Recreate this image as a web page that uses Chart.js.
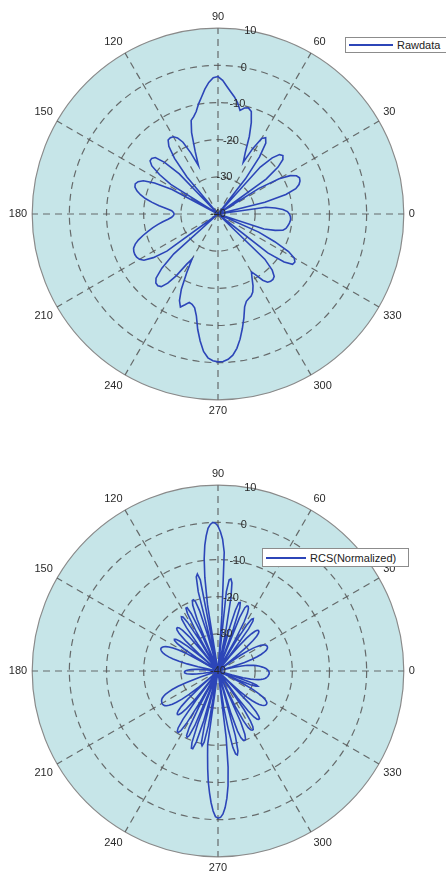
<!DOCTYPE html>
<html>
<head>
<meta charset="utf-8">
<script src="https://cdn.jsdelivr.net/npm/chart.js@4.4.1/dist/chart.umd.min.js"></script>
<style>
  body { margin: 0; background: #fff; width: 446px; height: 875px; overflow: hidden; position: relative; }
  .plot { position: absolute; left: 0; }
  #rawWrap { top: 10px; }
  #rcsWrap { top: 467px; }
  .legend {
    position: absolute; background: #fff; border: 1px solid #8c8c8c; box-sizing: border-box;
    display: flex; align-items: center; font-family: "Liberation Sans", Arial, sans-serif;
    font-size: 11px; color: #222; white-space: nowrap; overflow: hidden;
  }
  .legend .swatch { display: inline-block; height: 2px; background: #2c45b8; margin: 0 4px 0 3px; }
</style>
</head>
<body>
<div class="plot" id="rawWrap"><canvas id="rawChart" width="446" height="408"></canvas></div>
<div class="plot" id="rcsWrap"><canvas id="rcsChart" width="446" height="408"></canvas></div>

<div class="legend" style="left:345px;top:37px;width:106px;height:16px">
  <span class="swatch" style="width:44px"></span><span>Rawdata</span>
</div>
<div class="legend" style="left:262px;top:548px;width:147px;height:19px">
  <span class="swatch" style="width:40px"></span><span>RCS(Normalized)</span>
</div>

<script>
// radial axis (dB)
const radialTicks = [-40, -30, -20, -10, 0, 10];
const angleLabels = [0, 30, 60, 90, 120, 150, 180, 210, 240, 270, 300, 330];

// upper plot: raw data, one value every 2 degrees starting at 0
const rawStep = 2;
const rawdataDb = [
  -20.8, -21.3, -22.5, -24.5, -27, -40, -40, -27, -21, -18,
  -16.8, -16.2, -16, -16.5, -18, -21, -27, -40, -24, -19.5,
  -17.2, -16.5, -17, -19, -23, -40, -28, -21, -17, -15.8,
  -16.5, -20, -24.5, -22, -17.5, -13.8, -11, -10.3, -10.6, -11.5,
  -9.6, -8.2, -7, -5.6, -4, -3, -3.3, -4.5, -6.2, -8.2,
  -9.9, -11.8, -13, -13.8, -17, -22, -26, -22, -18.5, -16.8,
  -16, -15.8, -16, -17.5, -21, -27, -40, -25, -20, -17.3,
  -16.7, -16.8, -18, -21, -25, -40, -26, -21, -18, -16.8,
  -16.3, -16.5, -17.3, -18.5, -20, -22, -24, -26, -27.5, -28,
  -28.2, -28, -27.5, -26.5, -25, -23.5, -22, -20.5, -19, -17.5,
  -16.3, -15.5, -15.2, -15.1, -15.2, -15.6, -16.5, -19, -23, -40,
  -40, -24, -19, -16, -15, -14.8, -15.2, -17, -20, -24,
  -26, -22, -17.5, -14.5, -13, -14, -15, -14.7, -14, -12,
  -8.5, -5.5, -2.8, -1.2, -0.5, -0.2, -0.3, -0.8, -1.8, -3.5,
  -5.8, -8.5, -11.2, -14, -15.3, -15.8, -16.2, -17, -18.5, -20.5,
  -22, -20.5, -18.5, -17.3, -17, -17, -17.4, -19, -22.5, -40,
  -40, -23, -18, -15.8, -15.6, -16.3, -18.5, -23, -28, -40,
  -40, -27, -24, -22, -21.3, -21, -20.7, -20.5, -20.4, -20.5
];

// lower plot: normalized RCS, one value every degree starting at 0
const rcsStep = 1;
const rcsDb = [
  -26.4, -26.6, -26.8, -27.1, -27.5, -28, -28.5, -29, -29.6, -30.3,
  -31, -32, -33.5, -35.5, -38, -40, -40, -36, -32.5, -30.3,
  -28.8, -27.6, -26.7, -26, -25.6, -25.3, -25.2, -25.2, -25.3, -25.6,
  -26, -26.6, -27.5, -28.7, -30.3, -32.5, -36, -40, -40, -34,
  -30, -27.5, -26, -25.1, -24.7, -24.6, -24.8, -25.4, -26.5, -28.3,
  -31, -35, -40, -33, -26, -23.6, -23, -23.4, -25.5, -31,
  -40, -31, -25, -22.5, -21.3, -20.8, -20.8, -21.5, -24.5, -40,
  -28, -22, -20.6, -20.8, -23, -28, -40, -30, -40, -29,
  -20, -16, -15, -15.3, -18.5, -40, -25, -8, -4.5, -2.5,
  -1, -0.2, 0, -0.5, -1.5, -3.5, -6, -9.5, -14.5, -22,
  -40, -15, -13.3, -14, -18, -40, -30, -23, -20.3, -19.7,
  -19.8, -21, -25, -40, -29, -23, -21, -21, -22.5, -28,
  -40, -30, -24.5, -22.7, -22.4, -23, -25.5, -31, -40, -34,
  -28, -25.5, -24.4, -24, -24, -24.4, -25.5, -28, -33, -40,
  -34, -29.5, -27, -25.8, -25.5, -25.7, -26.8, -29, -33, -40,
  -35, -30.5, -28, -26.4, -25.3, -24.5, -24, -23.7, -23.5, -23.5,
  -23.7, -24, -24.5, -25.2, -26.2, -27.5, -29.2, -31.5, -34.5, -38,
  -40, -40, -40, -40, -37, -35, -33.8, -32.8, -32, -31.5,
  -31.2, -31, -31, -31, -31.2, -31.6, -32.2, -33, -34.2, -36,
  -40, -40, -40, -40, -40, -40, -40, -40, -40, -35,
  -31, -28.5, -26.7, -25.5, -24.5, -23.8, -23.3, -23, -22.8, -22.7,
  -22.6, -22.6, -22.7, -22.9, -23.3, -23.9, -24.8, -26, -27.7, -30,
  -33.5, -40, -34, -29, -26.3, -24.9, -24.2, -24, -24.2, -25,
  -26.8, -30, -40, -30, -24, -21.3, -20.4, -20.3, -21, -23.5,
  -30, -40, -29, -23, -20.7, -20.3, -21, -24, -40, -25,
  -19.5, -18, -18, -20, -26, -40, -25, -20, -19.4, -20.5,
  -25, -40, -20, -17, -13.5, -10, -7.2, -4.5, -2.3, -0.8,
  -0.4, -0.6, -1.5, -3.2, -5.7, -9, -14, -22, -40, -30,
  -24, -19, -17.2, -16.8, -17.8, -22, -40, -28, -23, -21,
  -20.2, -20, -20.2, -21.5, -25, -40, -29, -25, -22.8, -21.9,
  -21.6, -21.6, -22.3, -24, -27.5, -40, -31, -26.5, -24.3, -23.3,
  -23, -23, -23.6, -25, -28, -40, -36, -32, -29.5, -27.8,
  -26.6, -25.7, -25, -24.6, -24.3, -24.2, -24.2, -24.3, -24.7, -25.3,
  -26.2, -27.5, -29.3, -32, -36, -40, -34, -30.5, -29, -28.5,
  -29, -31, -36, -40, -36, -33, -31, -29.8, -28.9, -28.2,
  -27.6, -27.2, -26.9, -26.7, -26.5, -26.4, -26.3, -26.2, -26.2, -26.3
];

const fontFamily = '"Liberation Sans", Arial, sans-serif';
const gridColor = 'rgba(85, 85, 85, 0.85)';

// radial dB labels, drawn upright along the 80 degree direction
const radialTickLabels = {
  id: 'radialTickLabels',
  afterDatasetsDraw(chart) {
    const scale = chart.scales.r;
    const ctx = chart.ctx;
    const a = 80 * Math.PI / 180;
    ctx.save();
    ctx.font = '11px ' + fontFamily;
    ctx.fillStyle = '#2a2a2a';
    ctx.textAlign = 'center';
    ctx.textBaseline = 'middle';
    radialTicks.forEach(v => {
      const d = scale.getDistanceFromCenterForValue(v);
      ctx.fillText(String(v), scale.xCenter + d * Math.cos(a), scale.yCenter - d * Math.sin(a));
    });
    ctx.restore();
  }
};

function polarChart(canvasId, step, values, name) {
  // chart.js walks the labels clockwise, so feed them in reverse to get counter-clockwise angles
  const n = values.length;
  const labels = [];
  const data = [];
  for (let i = 0; i < n; i++) {
    const k = (n - i) % n;
    labels.push(k * step);
    data.push(values[k]);
  }
  return new Chart(document.getElementById(canvasId), {
    type: 'radar',
    data: {
      labels: labels,
      datasets: [{
        label: name,
        data: data,
        borderColor: '#2c45b8',
        borderWidth: 1.6,
        fill: false,
        pointRadius: 0,
        pointHoverRadius: 0,
        tension: 0
      }]
    },
    options: {
      responsive: false,
      animation: false,
      events: [],
      layout: { padding: { right: 21 } },
      plugins: { legend: { display: false }, tooltip: { enabled: false } },
      scales: {
        r: {
          min: -40,
          max: 10,
          startAngle: 90,
          backgroundColor: '#c6e5e8',
          ticks: { stepSize: 10, display: false },
          grid: {
            circular: true,
            color: ctx => ctx.tick && ctx.tick.value === 10 ? '#8a8a8a' : gridColor,
            lineWidth: 1.2
          },
          border: { dash: ctx => ctx.tick && ctx.tick.value === 10 ? [] : [7, 5] },
          angleLines: {
            color: gridColor,
            lineWidth: ctx => ctx.label ? 1.2 : 0,
            borderDash: [7, 5]
          },
          pointLabels: {
            callback: label => angleLabels.includes(label) ? String(label) : '',
            font: { size: 11, family: fontFamily },
            color: '#2a2a2a',
            padding: 5
          }
        }
      }
    },
    plugins: [radialTickLabels]
  });
}

polarChart('rawChart', rawStep, rawdataDb, 'Rawdata');
polarChart('rcsChart', rcsStep, rcsDb, 'RCS(Normalized)');
</script>
</body>
</html>
